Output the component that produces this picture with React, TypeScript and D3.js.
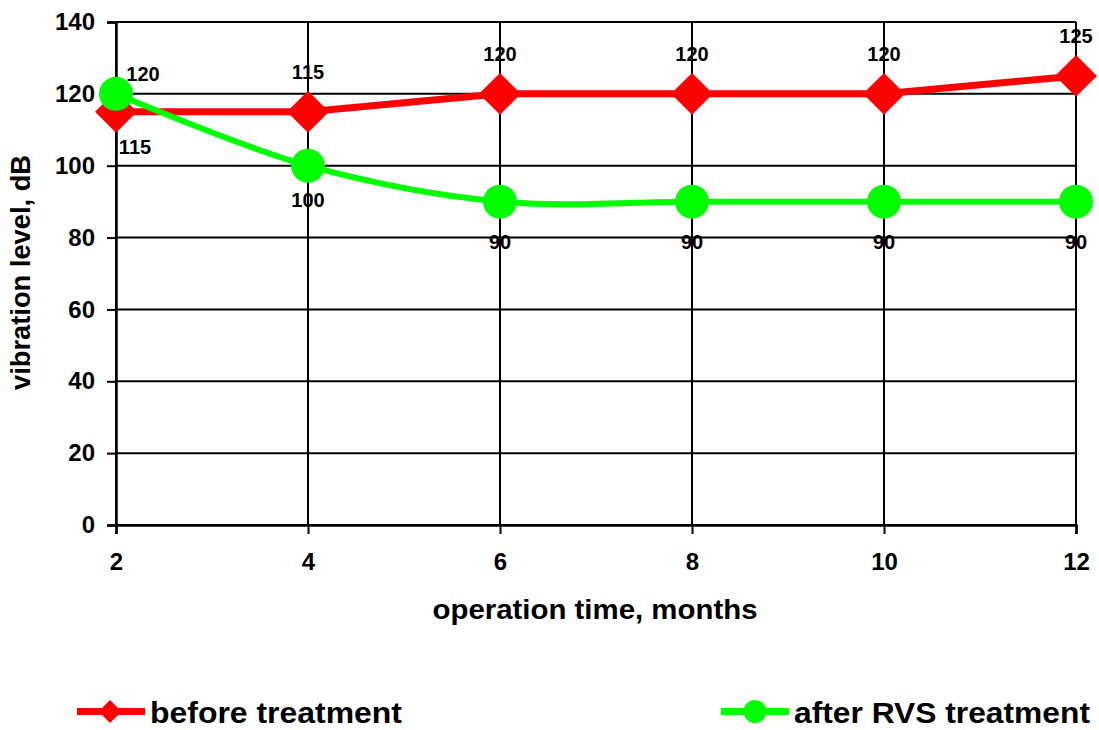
import { useEffect, useRef } from "react";
import * as d3 from "d3";

// operation time, months
const months = [2, 4, 6, 8, 10, 12];
// vibration level, dB
const beforeTreatment = [115, 115, 120, 120, 120, 125];
const afterRVS = [120, 100, 90, 90, 90, 90];
const yTicks = [0, 20, 40, 60, 80, 100, 120, 140];

const seriesNames = ["before treatment", "after RVS treatment"];
const RED = "#ff0000";
const GREEN = "#00ff00";
const FONT = "'Liberation Sans', Arial, sans-serif";

function drawChart(el: SVGSVGElement) {
  const w = 1099;
  const h = 730;
  const margin = { top: 22, right: 23, bottom: 205, left: 116 };
  const width = w - margin.left - margin.right;
  const height = h - margin.top - margin.bottom;

  const root = d3.select(el);
  root.selectAll("*").remove();
  root.attr("width", w).attr("height", h);
  root.append("rect").attr("width", w).attr("height", h).attr("fill", "white");

  const svg = root.append("g").attr("transform", `translate(${margin.left},${margin.top})`);

  const x = d3.scaleLinear().domain([2, 12]).range([0, width]);
  const y = d3.scaleLinear().domain([0, 140]).range([height, 0]);

  // grid
  svg
    .append("g")
    .selectAll("line")
    .data(yTicks)
    .join("line")
    .attr("x1", 0)
    .attr("x2", width)
    .attr("y1", (d) => y(d))
    .attr("y2", (d) => y(d))
    .attr("stroke", "black")
    .attr("stroke-width", 2);
  svg
    .append("g")
    .selectAll("line")
    .data(months)
    .join("line")
    .attr("x1", (d) => x(d))
    .attr("x2", (d) => x(d))
    .attr("y1", 0)
    .attr("y2", height)
    .attr("stroke", "black")
    .attr("stroke-width", 2);

  // axes
  const yAxis = svg
    .append("g")
    .call(d3.axisLeft(y).tickValues(yTicks).tickSize(9).tickPadding(12));
  const xAxis = svg
    .append("g")
    .attr("transform", `translate(0,${height})`)
    .call(d3.axisBottom(x).tickValues(months).tickSize(9).tickPadding(19));
  [yAxis, xAxis].forEach((a) => {
    a.select(".domain").attr("stroke", "black").attr("stroke-width", 2.5);
    a.selectAll(".tick line").attr("stroke", "black").attr("stroke-width", 2);
    a.selectAll(".tick text")
      .attr("fill", "black")
      .style("font-family", FONT)
      .style("font-weight", "bold")
      .style("font-size", "24px");
  });

  // axis titles
  svg
    .append("text")
    .attr("x", width / 2 - 1)
    .attr("y", height + 94)
    .attr("text-anchor", "middle")
    .attr("textLength", 325)
    .attr("lengthAdjust", "spacingAndGlyphs")
    .style("font-family", FONT)
    .style("font-weight", "bold")
    .style("font-size", "28px")
    .text("operation time, months");
  svg
    .append("text")
    .attr("transform", `translate(${-margin.left + 30},${height / 2 - 1}) rotate(-90)`)
    .attr("text-anchor", "middle")
    .attr("textLength", 235)
    .attr("lengthAdjust", "spacingAndGlyphs")
    .style("font-family", FONT)
    .style("font-weight", "bold")
    .style("font-size", "27px")
    .text("vibration level, dB");

  // lines
  const redLine = d3
    .line<number>()
    .x((_, i) => x(months[i]))
    .y((d) => y(d));
  const greenLine = d3
    .line<number>()
    .x((_, i) => x(months[i]))
    .y((d) => y(d))
    .curve(d3.curveCatmullRom.alpha(0.5));

  svg
    .append("path")
    .datum(beforeTreatment)
    .attr("fill", "none")
    .attr("stroke", RED)
    .attr("stroke-width", 7)
    .attr("d", redLine);

  const diamond = d3.symbol().type(d3.symbolSquare).size(880);
  svg
    .append("g")
    .selectAll("path")
    .data(beforeTreatment)
    .join("path")
    .attr("d", diamond)
    .attr("transform", (d, i) => `translate(${x(months[i])},${y(d)}) rotate(45)`)
    .attr("fill", RED);

  svg
    .append("path")
    .datum(afterRVS)
    .attr("fill", "none")
    .attr("stroke", GREEN)
    .attr("stroke-width", 6)
    .attr("d", greenLine);

  svg
    .append("g")
    .selectAll("circle")
    .data(afterRVS)
    .join("circle")
    .attr("cx", (_, i) => x(months[i]))
    .attr("cy", (d) => y(d))
    .attr("r", 17)
    .attr("fill", GREEN);

  // data labels
  const labelStyle = (sel: any) =>
    sel
      .attr("text-anchor", "middle")
      .attr("dominant-baseline", "central")
      .style("font-family", FONT)
      .style("font-weight", "bold")
      .style("font-size", "20px")
      .attr("fill", "black");

  svg
    .append("g")
    .selectAll("text")
    .data(beforeTreatment)
    .join("text")
    .attr("x", (_, i) => x(months[i]) + (i === 0 ? 19 : 0))
    .attr("y", (d, i) => y(d) + (i === 0 ? 35 : -40))
    .call(labelStyle)
    .text((d) => d);

  svg
    .append("g")
    .selectAll("text")
    .data(afterRVS)
    .join("text")
    .attr("x", (_, i) => x(months[i]) + (i === 0 ? 27 : 0))
    .attr("y", (d, i) => y(d) + (i === 0 ? -20 : i === 1 ? 34 : 40))
    .call(labelStyle)
    .text((d) => d);

  // legend
  const legend = root.append("g");
  const items = [
    { name: seriesNames[0], color: RED, x0: 77, marker: "diamond", len: 252 },
    { name: seriesNames[1], color: GREEN, x0: 721, marker: "circle", len: 296 },
  ];
  items.forEach((it) => {
    const g = legend.append("g").attr("transform", `translate(${it.x0},711.5)`);
    g.append("line")
      .attr("x1", 0)
      .attr("x2", 68)
      .attr("stroke", it.color)
      .attr("stroke-width", 7);
    if (it.marker === "diamond") {
      g.append("path")
        .attr("d", d3.symbol().type(d3.symbolSquare).size(265)())
        .attr("transform", "translate(33,0) rotate(45)")
        .attr("fill", it.color);
    } else {
      g.append("circle").attr("cx", 34).attr("r", 11.5).attr("fill", it.color);
    }
    g.append("text")
      .attr("x", 73)
      .attr("y", 11.5)
      .attr("textLength", it.len)
      .attr("lengthAdjust", "spacingAndGlyphs")
      .style("font-family", FONT)
      .style("font-weight", "bold")
      .style("font-size", "30px")
      .text(it.name);
  });
}

export default function App() {
  const ref = useRef<SVGSVGElement>(null);

  useEffect(() => {
    if (ref.current) drawChart(ref.current);
  }, []);

  return (
    <div style={{ position: "absolute", left: 0, top: 0, width: 1099, height: 730, overflow: "hidden" }}>
      <svg ref={ref} style={{ display: "block" }} />
    </div>
  );
}
